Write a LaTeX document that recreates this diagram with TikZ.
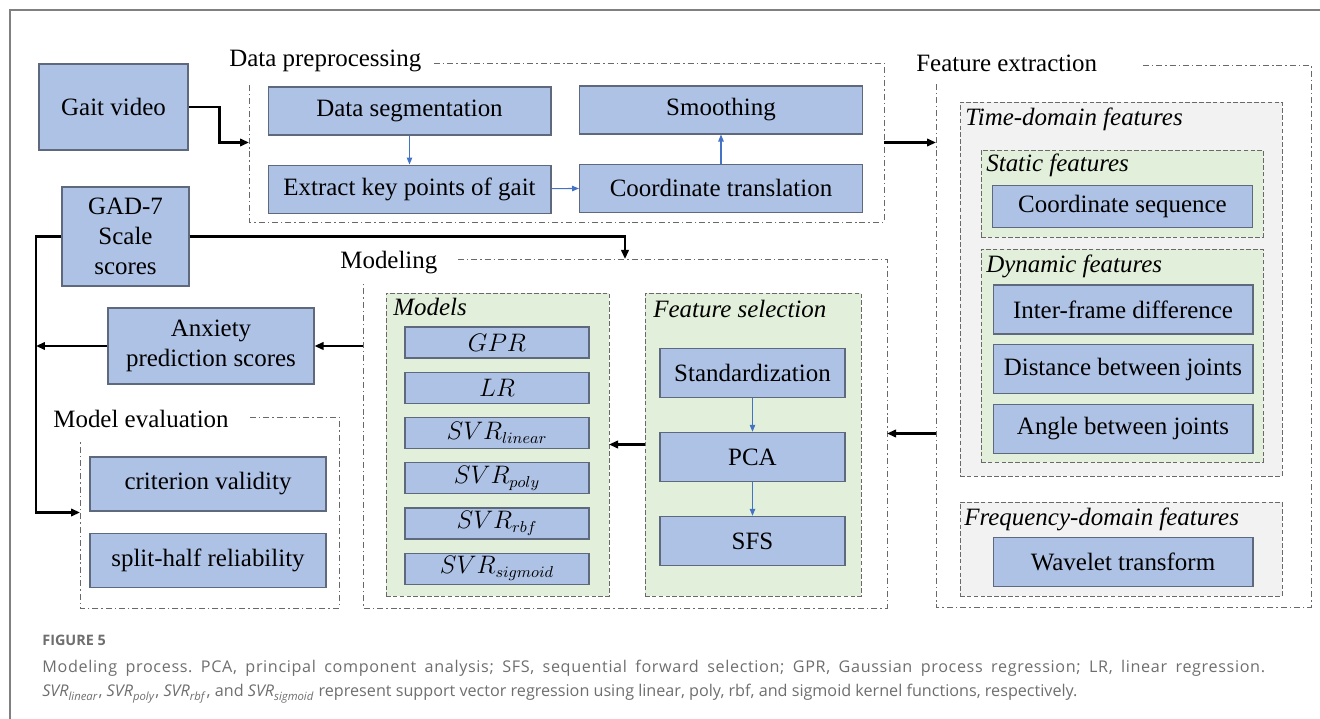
\documentclass[tikz,border=0pt]{standalone}
\usepackage{fontspec}
\setmainfont{Liberation Serif}
\newfontfamily\capfont{Open Sans}
\usetikzlibrary{arrows.meta,positioning,fit}

\definecolor{boxblue}{RGB}{174,194,230}
\definecolor{boxedge}{RGB}{95,105,125}
\definecolor{subgreen}{RGB}{226,239,218}
\definecolor{subgray}{RGB}{242,242,242}
\definecolor{flowblue}{RGB}{68,114,196}
\definecolor{frameedge}{RGB}{105,105,105}
\definecolor{captext}{RGB}{110,110,110}

\begin{document}
\begin{tikzpicture}[x=0.02cm,y=-0.02cm,
		procbox/.style={draw=boxedge,fill=boxblue,line width=0.6pt,align=center,inner sep=1pt,font=\fontsize{14.2}{17}\selectfont},
		prepbox/.style={procbox,minimum width=5.66cm,minimum height=0.96cm},
		featbox/.style={procbox,minimum width=5.2cm,minimum height=0.98cm},
		mathbox/.style={procbox,minimum width=3.68cm,minimum height=0.62cm,font=\fontsize{13.5}{15}\selectfont},
		selbox/.style={procbox,minimum width=3.7cm,minimum height=0.99cm},
		grp/.style={inner sep=0pt,outer sep=0pt},
		grpline/.style={draw=frameedge,line width=0.5pt,dash pattern=on 3.4pt off 1.7pt on 0.8pt off 1.7pt},
		subgrp/.style={grp,draw=frameedge,line width=0.5pt,dash pattern=on 2.6pt off 1.3pt},
		grptitle/.style={anchor=base west,inner sep=0pt,font=\fontsize{14.2}{17}\selectfont},
		subtitle/.style={grptitle,font=\fontsize{14.2}{17}\selectfont\itshape},
		flow/.style={-{Triangle[length=0.18cm,width=0.15cm]},line width=1.2pt},
		thinflow/.style={-{Triangle[length=0.14cm,width=0.11cm]},draw=flowblue,line width=0.6pt},
		captxt/.style={anchor=base west,inner sep=0pt,text=captext,font=\capfont\fontsize{9.2}{11}\selectfont\frenchspacing}]
	
	\useasboundingbox (0,0) rectangle (1320,719);
	
	% page frame
	\draw[draw=gray,line width=1.1pt] (10,719) -- (10,10) -- (1320,10);
	
	% Data preprocessing
	\node[grp,fit={(249,63) (884,222)}] (prep) {};
	\draw[grpline] ([xshift=3.7cm]prep.north west) -- (prep.north east) -- (prep.south east) -- (prep.south west) -- ([yshift=-0.4cm]prep.north west);
	\node[grptitle] at (229,67) {Data preprocessing};
	\node[prepbox] (seg) at (409.5,111) {Data segmentation};
	\node[prepbox,below=0.58cm of seg] (keypts) {Extract key points of gait};
	\node[prepbox] (smooth) at (721,110) {Smoothing};
	\node[prepbox,below=0.58cm of smooth] (coord) {Coordinate translation};
	
	% Feature extraction
	\node[grp,fit={(936,65) (1311,607)}] (feat) {};
	\draw[grpline] ([xshift=4.14cm]feat.north west) -- (feat.north east) -- (feat.south east) -- (feat.south west) -- ([yshift=-0.36cm]feat.north west);
	\node[grptitle] at (916,72) {Feature extraction};
	
	\node[subgrp,fill=subgray,fit={(960,102) (1282,476)}] (timedom) {};
	\node[subtitle] at (965,126) {Time-domain features};
	
	\node[subgrp,fill=subgreen,fit={(981,150) (1263,237)}] (static) {};
	\node[subtitle] at (986,172) {Static features};
	\node[featbox,minimum height=0.84cm] (coordseq) at (1122.5,206.5) {Coordinate sequence};
	
	\node[subgrp,fill=subgreen,fit={(981,249) (1263,462)}] (dynamic) {};
	\node[subtitle] at (986,273) {Dynamic features};
	\node[featbox] (interframe) at (1123,309.5) {Inter-frame difference};
	\node[featbox,below=0.19cm of interframe] (distance) {Distance between joints};
	\node[featbox,below=0.19cm of distance] (angle) {Angle between joints};
	
	\node[subgrp,fill=subgray,fit={(960,502) (1282,596)}] (freqdom) {};
	\node[subtitle] at (964,526) {Frequency-domain features};
	\node[featbox] (wavelet) at (1123,562) {Wavelet transform};
	
	% Modeling
	\node[grp,fit={(363,259) (887,608)}] (model) {};
	\draw[grpline] ([xshift=1.9cm]model.north west) -- (model.north east) -- (model.south east) -- (model.south west) -- ([yshift=-0.44cm]model.north west);
	\node[grptitle] at (340,269) {Modeling};
	
	\node[subgrp,fill=subgreen,fit={(386,293) (609,596)}] (models) {};
	\node[subtitle] at (393,316) {Models};
	\node[mathbox] (gpr) at (497,342.5) {$GPR$};
	\node[mathbox,below=0.264cm of gpr] (lr) {$LR$};
	\node[mathbox,below=0.264cm of lr] (svrlin) {$SVR_{linear}$};
	\node[mathbox,below=0.264cm of svrlin] (svrpoly) {$SVR_{poly}$};
	\node[mathbox,below=0.264cm of svrpoly] (svrrbf) {$SVR_{rbf}$};
	\node[mathbox,below=0.264cm of svrrbf] (svrsig) {$SVR_{sigmoid}$};
	
	\node[subgrp,fill=subgreen,fit={(645,293) (861,596)}] (fsel) {};
	\node[subtitle] at (653,318) {Feature selection};
	\node[selbox] (std) at (752.5,373) {Standardization};
	\node[selbox,below=0.67cm of std] (pca) {PCA};
	\node[selbox,below=0.67cm of pca] (sfs) {SFS};
	
	% Model evaluation
	\node[grp,fit={(80,417) (339,608)}] (eval) {};
	\draw[grpline] ([xshift=3.4cm]eval.north west) -- (eval.north east) -- (eval.south east) -- (eval.south west) -- ([yshift=-0.48cm]eval.north west);
	\node[grptitle] at (53,428) {Model evaluation};
	\node[procbox,minimum width=4.72cm,minimum height=1.08cm] (crit) at (208,484) {criterion validity};
	\node[procbox,minimum width=4.72cm,minimum height=1.08cm,below=0.42cm of crit] (split) {split-half reliability};
	
	% inputs and outputs
	\node[procbox,minimum width=2.98cm,minimum height=1.72cm] (gait) at (113.5,107) {Gait video};
	\node[procbox,minimum width=2.54cm,minimum height=1.98cm] (gad) at (125.5,236.5) {GAD-7\\Scale\\scores};
	\node[procbox,minimum width=4.12cm,minimum height=1.52cm] (anx) at (211,346) {Anxiety\\prediction scores};
	\coordinate (trunk) at (36,236.5);
	
	% connectors
	\draw[flow] (gait.east) -- ++(31,0) |- (prep.west);
	\draw[flow] (prep.east) -- (prep.east -| feat.west);
	\draw[flow] (feat.west |- model.east) -- (model.east);
	\draw[flow] (gad.east) -| (model.north);
	\draw[flow] (gad.west) -- (trunk) |- (eval.west);
	\draw[flow] (model.west |- anx.east) -- (anx.east);
	\draw[flow] (anx.west) -- (anx.west -| trunk);
	\draw[flow] (fsel.west) -- (models.east);
	
	\draw[thinflow] (seg) -- (keypts);
	\draw[thinflow] (keypts) -- (coord);
	\draw[thinflow] (coord) -- (smooth);
	\draw[thinflow] (std) -- (pca);
	\draw[thinflow] (pca) -- (sfs);
	
	% caption, first line set full width
	\node[captxt,font=\capfont\bfseries\fontsize{8.2}{10}\selectfont] (figno) at (42,646) {FIGURE 5};
	\node[captxt] (capa) at (42,673) {\makebox[24.46cm][s]{\addfontfeature{LetterSpace=4}Modeling process. PCA, principal component analysis; SFS, sequential forward selection; GPR, Gaussian process regression; LR, linear regression.}};
	\node[captxt] (capb) at (42,697) {\textit{SVR}\textsubscript{\textit{linear}}, \textit{SVR}\textsubscript{\textit{poly}}, \textit{SVR}\textsubscript{\textit{rbf}}, and \textit{SVR}\textsubscript{\textit{sigmoid}} represent support vector regression using linear, poly, rbf, and sigmoid kernel functions, respectively.};
	
\end{tikzpicture}
\end{document}
